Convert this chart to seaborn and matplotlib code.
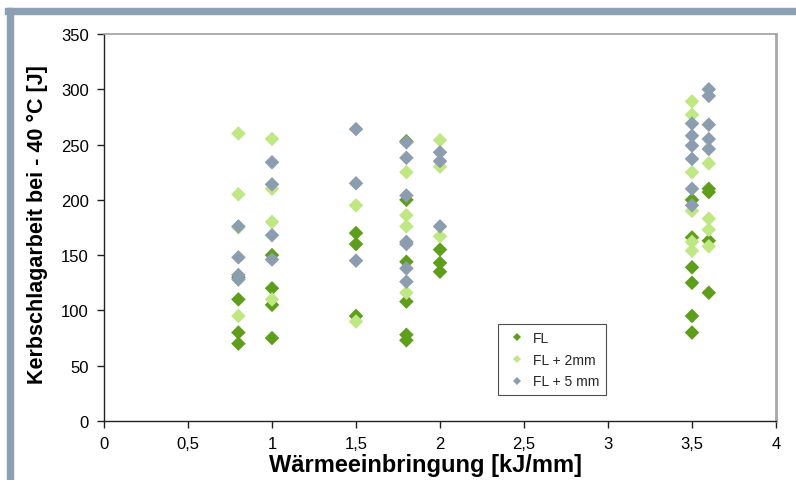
import numpy as np
import pandas as pd
import matplotlib.pyplot as plt
import seaborn as sns
from matplotlib.patches import Rectangle

# Wärmeeinbringung [kJ/mm] and Kerbschlagarbeit [J]
fl_x = [0.8]*4 + [1.0]*4 + [1.5]*3 + [1.8]*6 + [2.0]*3 + [3.5]*6 + [3.6]*4
fl_y = [130, 110, 80, 70,
        150, 120, 105, 75,
        170, 160, 95,
        253, 200, 144, 108, 78, 73,
        155, 143, 135,
        200, 166, 139, 125, 95, 80,
        210, 207, 163, 116]

fl2_x = [0.8]*4 + [1.0]*4 + [1.5]*2 + [1.8]*4 + [2.0]*3 + [3.5]*6 + [3.6]*4
fl2_y = [260, 205, 175, 95,
         255, 210, 180, 110,
         195, 90,
         225, 186, 176, 116,
         254, 230, 167,
         289, 277, 225, 190, 162, 154,
         233, 183, 173, 158]

fl5_x = [0.8]*4 + [1.0]*4 + [1.5]*3 + [1.8]*7 + [2.0]*3 + [3.5]*6 + [3.6]*5
fl5_y = [176, 148, 132, 128,
         234, 214, 168, 146,
         264, 215, 145,
         252, 238, 204, 162, 160, 138, 126,
         243, 235, 176,
         269, 258, 249, 237, 210, 195,
         300, 294, 268, 255, 246]

series = ["FL", "FL + 2mm", "FL + 5 mm"]
colors = ["#5f9e1c", "#bfe884", "#8c9db0"]

x_ticks = [0, 0.5, 1, 1.5, 2, 2.5, 3, 3.5, 4]
x_labels = ["0", "0,5", "1", "1,5", "2", "2,5", "3", "3,5", "4"]
y_ticks = [0, 50, 100, 150, 200, 250, 300, 350]

df = pd.concat([
    pd.DataFrame({"x": fl_x, "y": fl_y, "Serie": series[0]}),
    pd.DataFrame({"x": fl2_x, "y": fl2_y, "Serie": series[1]}),
    pd.DataFrame({"x": fl5_x, "y": fl5_y, "Serie": series[2]}),
])

sns.set_style("white")
plt.rcParams['font.family'] = ['Liberation Sans', 'DejaVu Sans']

fig = plt.figure(figsize=(7.96, 4.81), dpi=100)
ax = fig.add_axes([104/796, 1 - 422/481, 672/796, 387/481])

sns.scatterplot(data=df, x="x", y="y", hue="Serie", hue_order=series,
                palette=colors, marker="D", s=55, linewidth=0, ax=ax)

ax.set_xlim(0, 4)
ax.set_ylim(0, 350)
ax.set_xticks(x_ticks)
ax.set_xticklabels(x_labels)
ax.set_yticks(y_ticks)
ax.tick_params(axis="both", direction="out", length=5, width=1, color="#222222",
               labelsize=12, pad=6, left=True, bottom=True, labelcolor="black")

ax.set_xlabel("Wärmeeinbringung [kJ/mm]", fontsize=17, fontweight="bold", color="black")
ax.set_ylabel("Kerbschlagarbeit bei - 40 °C [J]", fontsize=15.5, fontweight="bold",
              color="black")
ax.xaxis.set_label_coords(0.479, -0.083)
ax.yaxis.set_label_coords(-0.083, 0.509)

for side in ["left", "bottom"]:
    ax.spines[side].set_color("#222222")
    ax.spines[side].set_linewidth(1)
ax.spines["top"].set_color("#a0a0a0")
ax.spines["top"].set_linewidth(1.2)
ax.spines["right"].set_color("#a8a8a8")
ax.spines["right"].set_linewidth(2)

leg = ax.legend(loc="upper left", bbox_to_anchor=(0.586, 0.25),
                fontsize=10, frameon=True, fancybox=False,
                markerscale=0.5, handletextpad=0.3, borderpad=0.5,
                labelspacing=0.55, handlelength=1.7, borderaxespad=0)
leg.get_frame().set_edgecolor("#222222")
leg.get_frame().set_linewidth(0.8)

# outer frame strips (top and left)
fig.patches.append(Rectangle((5/796, 1 - 15/481), 1, 6/481, transform=fig.transFigure,
                             color="#8d9fb2", zorder=0))
fig.patches.append(Rectangle((7/796, 0), 6/796, 1 - 9/481, transform=fig.transFigure,
                             color="#8d9fb2", zorder=0))

fig.savefig("out.png", dpi=100)
